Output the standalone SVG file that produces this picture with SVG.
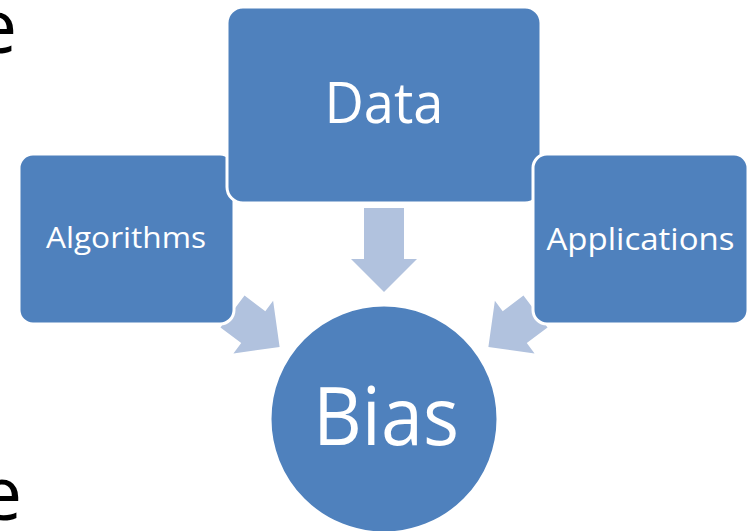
<svg xmlns="http://www.w3.org/2000/svg" width="752" height="531" viewBox="0 0 752 531">
  <style>
    .box { fill: #4F81BD; stroke: #FFFFFF; stroke-width: 3; }
    .arrow { fill: #B1C2DE; }
    .label { fill: #FFFFFF; font-family: "Open Sans", "Noto Sans", "Liberation Sans", sans-serif; text-anchor: middle; }
    .slide { fill: #000000; font-family: "Open Sans", "Noto Sans", "Liberation Sans", sans-serif; text-anchor: end; font-size: 75px; }
  </style>
  <defs>
    <!-- block arrow pointing along +x, shaft starts at origin -->
    <polygon id="shortArrow" points="0,-20 26,-20 26,-33 59,0 26,33 26,20 0,20"/>
    <polygon id="longArrow" points="0,-20 51,-20 51,-33 84,0 51,33 51,20 0,20"/>
  </defs>
  <rect width="752" height="531" fill="#FFFFFF"/>

  <!-- partially visible slide text at the left edge -->
  <text class="slide" x="17" y="53">e</text>
  <text class="slide" x="22" y="520">e</text>

  <g id="connectors">
    <use href="#longArrow" class="arrow" transform="translate(384,208) rotate(90)"/>
    <use href="#shortArrow" class="arrow" transform="translate(232.5,311.5) rotate(37)"/>
    <use href="#shortArrow" class="arrow" transform="translate(535.5,311.5) rotate(143)"/>
  </g>

  <g id="algorithms">
    <rect class="box" x="19" y="154" width="215" height="170" rx="14" ry="14"/>
    <text class="label" x="126" y="248" font-size="30" textLength="160" lengthAdjust="spacingAndGlyphs">Algorithms</text>
  </g>

  <g id="data">
    <rect class="box" x="227" y="7" width="314" height="196" rx="16" ry="16"/>
    <text class="label" x="384" y="123" font-size="56" textLength="119" lengthAdjust="spacingAndGlyphs">Data</text>
  </g>

  <g id="applications">
    <rect class="box" x="533" y="154" width="215" height="170" rx="14" ry="14"/>
    <text class="label" x="640.5" y="250" font-size="31" textLength="188" lengthAdjust="spacingAndGlyphs">Applications</text>
  </g>

  <g id="bias">
    <circle class="box" cx="384" cy="419" r="114"/>
    <text class="label" x="386" y="445" font-size="81" textLength="146" lengthAdjust="spacingAndGlyphs">Bias</text>
  </g>
</svg>
